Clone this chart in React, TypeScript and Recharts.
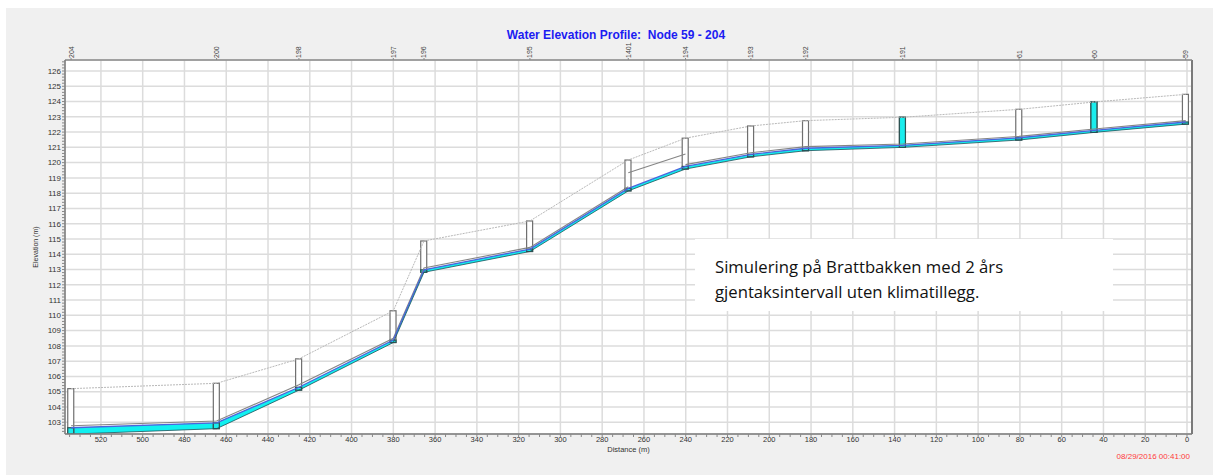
import React from "react";
import {
  Area,
  Bar,
  CartesianGrid,
  ComposedChart,
  Line,
  ReferenceLine,
  XAxis,
  YAxis,
} from "recharts";

// Nodes along the profile, from the outlet end (204) up to node 59
const NODE_NAMES = ["204", "200", "198", "197", "196", "195", "1401", "194", "193", "192", "191", "61", "60", "59"];
const NODE_DIST = [534.3, 464.6, 425.2, 380.0, 365.3, 314.6, 267.5, 240.1, 208.8, 182.5, 136.1, 80.4, 44.4, 0.6];
const RIM_ELEV = [105.2, 105.55, 107.15, 110.3, 114.87, 116.18, 120.17, 121.6, 122.4, 122.75, 122.97, 123.49, 123.97, 124.47];
const INVERT_ELEV = [102.22, 102.58, 105.1, 108.22, 112.82, 114.18, 118.15, 119.58, 120.38, 120.78, 121.0, 121.48, 121.98, 122.52];
const WATER_ELEV = [102.64, 102.96, 105.29, 108.38, 112.98, 114.34, 118.31, 119.75, 120.54, 120.94, 121.13, 121.63, 122.11, 122.66];
const CROWN_ELEV = [102.77, 103.08, 105.45, 108.5, 113.1, 114.45, 118.42, 119.87, 120.65, 121.05, 121.22, 121.72, 122.2, 122.75];
// water level inside each manhole (191 and 60 are surcharged to the rim)
const NODE_WATER = [102.64, 102.96, 105.29, 108.38, 112.98, 114.34, 118.31, 119.75, 120.54, 120.94, 122.97, 121.63, 123.97, 122.66];
// the 1401 -> 194 pipe sits higher, its crown is drawn on its own
const BIG_PIPE_DIST = [267.5, 240.1];
const BIG_PIPE_CROWN = [119.34, 120.56];

const X_LABELS = [0, 20, 40, 60, 80, 100, 120, 140, 160, 180, 200, 220, 240, 260, 280, 300, 320, 340, 360, 380, 400, 420, 440, 460, 480, 500, 520];
const Y_LABELS = [103, 104, 105, 106, 107, 108, 109, 110, 111, 112, 113, 114, 115, 116, 117, 118, 119, 120, 121, 122, 123, 124, 125, 126];
const X_MINOR = Array.from({ length: 108 }, (_, i) => i * 5);
const Y_MINOR = Array.from({ length: 122 }, (_, i) => Number((102.4 + i * 0.2).toFixed(1)));

const X_DOMAIN: [number, number] = [-2.4, 537.2];
const Y_DOMAIN: [number, number] = [102.23, 126.72];

const FONT = "'Liberation Sans', Arial, sans-serif";

const nodeRows = NODE_NAMES.map((name, i) => ({
  name,
  dist: NODE_DIST[i],
  rim: RIM_ELEV[i],
  invert: INVERT_ELEV[i],
  water: WATER_ELEV[i],
  crown: CROWN_ELEV[i],
  nodeWater: NODE_WATER[i],
}));

// crown line breaks over the 1401 -> 194 pipe
const crownRows: { dist: number; crown: number | null }[] = [];
nodeRows.forEach((r, i) => {
  crownRows.push({ dist: r.dist, crown: r.crown });
  if (r.name === "1401") {
    crownRows.push({ dist: (r.dist + nodeRows[i + 1].dist) / 2, crown: null });
  }
});
const bigPipeRows = BIG_PIPE_DIST.map((d, i) => ({ dist: d, crown: BIG_PIPE_CROWN[i] }));

function Manhole(props: any) {
  const { x, y, width, height, payload } = props;
  if (height == null || !payload) return <g />;
  const frac = (payload.nodeWater - payload.invert) / (payload.rim - payload.invert);
  const wh = height * frac;
  const full = frac > 0.99;
  return (
    <g>
      <rect x={x} y={y} width={width} height={height} fill="#ffffff" stroke={full ? "#2d5252" : "#6f6f6f"} strokeWidth={1.2} />
      <rect x={x} y={y + height - wh} width={width} height={wh} fill="#19eded" stroke="#2d5252" strokeWidth={1.2} />
    </g>
  );
}

function DistanceTick(props: any) {
  const { x, y, payload } = props;
  if (payload.value % 20 !== 0) return <g />;
  return (
    <text x={x} y={y} dy="0.71em" textAnchor="middle" fontSize={7.5} fill="#333" fontFamily={FONT}>
      {payload.value}
    </text>
  );
}

function ElevationTick(props: any) {
  const { x, y, payload } = props;
  if (Math.abs(payload.value - Math.round(payload.value)) > 1e-6) return <g />;
  return (
    <text x={x} y={y} dy="0.35em" textAnchor="end" fontSize={8} fill="#333" fontFamily={FONT}>
      {Math.round(payload.value)}
    </text>
  );
}

function NodeTick(props: any) {
  const { x, y, payload } = props;
  const i = NODE_DIST.indexOf(payload.value);
  return (
    <text
      transform={`translate(${x},${y}) rotate(-90)`}
      dy="0.35em"
      textAnchor="start"
      fontSize={7}
      fill="#444"
      fontFamily={FONT}
    >
      {NODE_NAMES[i]}
    </text>
  );
}

export default function App() {
  return (
    <div style={{ position: "absolute", left: 0, top: 0, width: 1213, height: 476, background: "#ffffff", overflow: "hidden" }}>
      <div style={{ position: "absolute", left: 6, top: 8, width: 1207, height: 467, background: "#f0f0f0" }} />
      <div style={{ position: "absolute", left: 0, top: 0 }}>
        <ComposedChart
          width={1213}
          height={476}
          data={nodeRows}
          margin={{ top: 20, right: 21, bottom: 12, left: 0 }}
        >
          {/* hidden axes only carry the grid spacing (20 m / 1 m) */}
          <XAxis xAxisId="grid" dataKey="dist" type="number" domain={X_DOMAIN} allowDataOverflow reversed ticks={X_LABELS} interval={0} hide />
          <YAxis yAxisId="grid" type="number" domain={Y_DOMAIN} allowDataOverflow ticks={Y_LABELS} interval={0} hide />
          <CartesianGrid
            xAxisId="grid"
            yAxisId="grid"
            fill="#ffffff"
            stroke="#dcdcdc"
            strokeWidth={1.5}
          />
          <XAxis
            dataKey="dist"
            type="number"
            domain={X_DOMAIN}
            allowDataOverflow
            reversed
            ticks={X_MINOR}
            interval={0}
            tick={<DistanceTick />}
            tickSize={3}
            tickMargin={0}
            tickLine={{ stroke: "#888" }}
            axisLine={{ stroke: "#7a7a7a", strokeWidth: 1.5 }}
            height={30}
            label={{ value: "Distance (m)", position: "center", dy: 0, fontSize: 7.5, fill: "#333", fontFamily: FONT }}
          />
          <XAxis
            xAxisId="top"
            orientation="top"
            dataKey="dist"
            type="number"
            domain={X_DOMAIN}
            allowDataOverflow
            reversed
            ticks={NODE_DIST}
            interval={0}
            tick={<NodeTick />}
            tickSize={2}
            tickMargin={0}
            tickLine={{ stroke: "#888" }}
            axisLine={{ stroke: "#8a8a8a", strokeWidth: 1.5 }}
            height={40}
          />
          <YAxis
            type="number"
            domain={Y_DOMAIN}
            allowDataOverflow
            ticks={Y_MINOR}
            interval={0}
            tick={<ElevationTick />}
            tickSize={3}
            tickMargin={1}
            tickLine={{ stroke: "#888" }}
            axisLine={{ stroke: "#7a7a7a", strokeWidth: 1.5 }}
            width={65}
            label={{ value: "Elevation (m)", angle: -90, position: "center", dx: 3, fontSize: 7, fill: "#333", fontFamily: FONT }}
          />

          <Line
            data={nodeRows}
            dataKey="rim"
            type="linear"
            stroke="#b9b9b9"
            strokeWidth={1}
            strokeDasharray="2 1"
            dot={false}
            isAnimationActive={false}
          />
          <Area
            data={nodeRows}
            dataKey={(d: any) => [d.invert, d.water]}
            type="linear"
            fill="#10f0f0"
            fillOpacity={1}
            stroke="none"
            isAnimationActive={false}
          />
          <Line data={crownRows} dataKey="crown" type="linear" stroke="#858585" strokeWidth={1.1} dot={false} isAnimationActive={false} />
          <Line data={bigPipeRows} dataKey="crown" type="linear" stroke="#858585" strokeWidth={1.1} dot={false} isAnimationActive={false} />
          <Line data={nodeRows} dataKey="water" type="linear" stroke="#4a64dc" strokeWidth={1.3} dot={false} isAnimationActive={false} />
          <Line data={nodeRows} dataKey="invert" type="linear" stroke="#1f5058" strokeWidth={0.8} dot={false} isAnimationActive={false} />
          <Bar
            dataKey={(d: any) => [d.invert, d.rim]}
            barSize={6}
            shape={<Manhole />}
            isAnimationActive={false}
          />
          <ReferenceLine x={X_DOMAIN[0]} stroke="#7a7a7a" strokeWidth={2} />
        </ComposedChart>
      </div>

      <div
        style={{
          position: "absolute",
          left: 416,
          top: 28,
          width: 400,
          textAlign: "center",
          fontFamily: FONT,
          fontWeight: 700,
          fontSize: 12,
          color: "#1c1cf2",
          whiteSpace: "pre",
        }}
      >
        {"Water Elevation Profile:  Node 59 - 204"}
      </div>
      <div
        style={{
          position: "absolute",
          right: 23,
          top: 452,
          fontFamily: FONT,
          fontSize: 8,
          color: "#ff3b3b",
        }}
      >
        08/29/2016 00:41:00
      </div>

      <div
        style={{
          position: "absolute",
          left: 695,
          top: 239,
          width: 418,
          height: 72,
          background: "#ffffff",
        }}
      >
        <div
          style={{
            position: "absolute",
            left: 20,
            top: 15,
            width: 390,
            fontFamily: "'Open Sans', 'Noto Sans', sans-serif",
            fontSize: 16.7,
            lineHeight: "25px",
            color: "#111",
          }}
        >
          Simulering på Brattbakken med 2 års
          <br />
          gjentaksintervall uten klimatillegg.
        </div>
      </div>
    </div>
  );
}
